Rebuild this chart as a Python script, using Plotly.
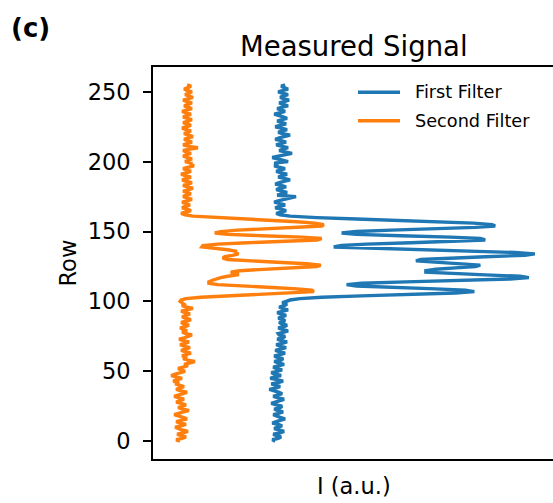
import plotly.graph_objects as go

# Row index of the detector (0..255)
rows = list(range(256))

# First filter intensity, split into the quiet rows below the band,
# the bright band itself, and the quiet rows above it.
first_filter_low = [
    12.3, 12.0, 12.6, 12.9, 12.4, 12.1, 12.8, 13.2, 12.7, 12.2,
    12.5, 13.0, 12.6, 12.0, 12.4, 12.9, 13.3, 12.8, 12.3, 12.1,
    12.7, 13.1, 12.5, 12.2, 12.8, 13.0, 12.4, 11.9, 12.3, 12.9,
    13.2, 12.6, 12.1, 12.5, 13.0, 12.7, 12.0, 11.7, 12.3, 12.8,
    12.4, 11.9, 12.6, 13.1, 12.5, 11.8, 12.2, 12.9, 12.3, 11.9,
    12.5, 13.0, 12.4, 12.1, 12.7, 13.2, 12.6, 12.2, 12.9, 13.1,
    12.5, 12.2, 12.8, 13.3, 12.7, 12.3, 12.9, 13.4, 12.8, 12.4,
    13.0, 13.5, 12.9, 12.5, 13.1, 13.3, 12.7, 12.6, 13.2, 13.6,
    13.0, 12.6, 13.2, 13.5, 12.9, 12.7, 13.3, 13.1, 12.6, 13.0,
    13.4, 12.9, 12.5, 13.1, 13.6, 13.0, 12.7, 13.2, 13.5, 13.0,
]
first_filter_band = [
    13.3, 13.8, 14.8, 17.0, 21.0, 26.0, 30.5, 32.4, 31.5, 28.5,
    24.0, 20.5, 19.5, 21.0, 25.5, 31.0, 36.0, 37.9, 37.0, 33.5,
    29.5, 27.5, 27.5, 28.5, 30.5, 32.5, 33.0, 31.0, 28.0, 26.5,
    27.0, 29.5, 33.5, 37.5, 38.5, 36.5, 32.0, 26.0, 20.5, 18.2,
    19.0, 21.5, 26.0, 31.0, 33.5, 33.0, 30.0, 25.0, 20.5, 19.0,
    20.5, 24.0, 28.5, 32.5, 34.5, 34.2, 32.3, 29.0, 25.0, 20.5,
    16.5, 13.8,
]
first_filter_high = [
    12.8, 12.4, 13.0, 13.4, 12.9, 12.3, 12.7, 13.3, 12.8, 12.2,
    12.6, 13.2, 13.7, 14.4, 12.5, 12.9, 13.5, 13.0, 12.4, 12.8,
    13.4, 12.9, 12.3, 12.7, 13.2, 13.8, 13.2, 12.6, 13.0, 13.5,
    12.9, 12.4, 12.8, 13.3, 12.7, 12.2, 12.6, 12.2, 13.6, 13.0,
    12.5, 12.0, 12.6, 13.2, 14.0, 13.3, 12.7, 13.1, 13.6, 13.0,
    12.4, 12.8, 13.4, 12.9, 12.3, 12.7, 13.3, 13.8, 13.1, 12.6,
    13.0, 13.5, 12.9, 12.3, 12.8, 13.4, 13.0, 12.5, 12.9, 13.5,
    13.1, 12.6, 12.2, 12.8, 13.3, 12.9, 12.5, 13.0, 13.6, 13.1,
    12.7, 13.2, 13.7, 13.2, 12.8, 13.1, 13.6, 13.0, 12.6, 13.1,
    13.6, 13.2, 12.9, 13.3,
]

# Second filter intensity, same split.
second_filter_low = [
    2.7, 2.3, 2.9, 3.3, 2.8, 2.4, 3.0, 3.5, 2.9, 2.5,
    2.2, 2.8, 3.3, 2.7, 2.3, 2.9, 3.4, 3.0, 2.5, 2.1,
    2.6, 3.2, 3.6, 3.0, 2.5, 2.9, 3.3, 2.8, 2.3, 2.7,
    3.1, 2.6, 2.1, 2.5, 3.0, 3.4, 2.8, 2.3, 2.6, 3.1,
    2.7, 2.2, 2.6, 2.0, 2.4, 2.9, 2.3, 1.8, 2.2, 2.7,
    3.2, 2.8, 2.5, 3.0, 3.5, 3.1, 3.6, 4.2, 3.5, 3.0,
    3.4, 2.9, 3.3, 3.8, 3.2, 2.8, 3.3, 3.7, 3.1, 2.7,
    3.2, 3.6, 3.0, 2.6, 3.1, 3.5, 3.9, 3.3, 2.9, 3.4,
    3.0, 2.7, 3.2, 3.6, 3.1, 2.8, 3.4, 3.8, 3.2, 2.9,
    3.3, 3.7, 3.2, 2.8, 3.4, 4.0, 3.3, 2.9, 3.1, 2.8,
]
second_filter_band = [
    2.7, 2.8, 3.3, 4.8, 7.5, 11.0, 14.5, 16.2, 16.0, 14.5,
    12.0, 9.0, 6.5, 5.6, 5.6, 5.9, 6.3, 6.8, 7.5, 8.5,
    8.5, 7.8, 8.7, 11.0, 14.0, 16.5, 16.9, 15.5, 12.5, 9.5,
    7.5, 7.0, 7.2, 8.0, 8.6, 8.3, 8.3, 7.5, 6.0, 4.9,
    5.0, 6.5, 9.5, 13.5, 16.5, 17.0, 15.0, 11.0, 7.5, 6.2,
    6.8, 8.5, 11.5, 15.0, 17.0, 17.2, 16.3, 14.5, 12.0, 9.0,
    6.0, 4.0,
]
second_filter_high = [
    3.2, 2.8, 3.3, 3.8, 3.4, 2.9, 3.2, 3.7, 3.3, 2.9,
    3.4, 3.9, 3.5, 3.0, 3.3, 3.8, 3.4, 3.0, 3.6, 4.0,
    3.4, 3.0, 3.5, 3.9, 3.3, 2.9, 3.4, 3.8, 3.2, 2.8,
    3.3, 3.8, 3.4, 3.0, 3.5, 4.1, 3.8, 3.8, 3.2, 3.5,
    3.9, 3.4, 3.0, 3.4, 3.8, 3.3, 3.0, 3.7, 4.5, 3.6,
    3.0, 3.4, 3.9, 3.5, 3.1, 3.5, 4.0, 3.6, 3.1, 3.4,
    3.8, 3.3, 2.9, 3.3, 3.8, 3.4, 3.0, 3.5, 3.9, 3.4,
    3.0, 3.4, 3.8, 3.3, 2.9, 3.4, 3.9, 3.5, 3.1, 3.5,
    3.9, 3.4, 3.0, 3.5, 4.0, 3.6, 3.2, 3.6, 3.9, 3.4,
    3.1, 3.5, 3.8, 3.4,
]

series_names = ["First Filter", "Second Filter"]
series_colors = ["#1f77b4", "#ff7f0e"]
row_ticks = [0, 50, 100, 150, 200, 250]

first_filter = first_filter_low + first_filter_band + first_filter_high
second_filter = second_filter_low + second_filter_band + second_filter_high

FONT = "DejaVu Sans"
LINE_W = 3.4
SPINE_W = 1.8

fig = go.Figure()
for name, values, color in zip(series_names, [first_filter, second_filter], series_colors):
    fig.add_trace(go.Scatter(
        x=values, y=rows, mode="lines", name=name, showlegend=False,
        line=dict(color=color, width=LINE_W),
    ))

# Autoscale with 5% padding on both axes
all_x = first_filter + second_filter
xmin, xmax = min(all_x), max(all_x)
xpad = 0.05 * (xmax - xmin)
ypad = 0.05 * (rows[-1] - rows[0])

fig.update_layout(
    width=553, height=503,
    margin=dict(l=153, r=0, t=67, b=44, pad=0),
    paper_bgcolor="white", plot_bgcolor="white",
    font=dict(family=FONT, color="black"),
    xaxis=dict(
        range=[xmin - xpad, xmax + xpad],
        showgrid=False, zeroline=False, showticklabels=False, ticks="",
        showline=True, mirror=True, linecolor="black", linewidth=SPINE_W,
    ),
    yaxis=dict(
        range=[rows[0] - ypad, rows[-1] + ypad],
        tickvals=row_ticks, ticktext=[str(t) for t in row_ticks],
        ticks="outside", ticklen=8, tickwidth=SPINE_W, tickcolor="black",
        tickfont=dict(family=FONT, size=22.5, color="black"),
        ticklabelstandoff=8,
        showgrid=False, zeroline=False,
        showline=True, mirror=False, linecolor="black", linewidth=SPINE_W,
    ),
)

PLOT_L, PLOT_W = 153, 400
PLOT_B, PLOT_H = 459, 392


def px_x(px):
    return (px - PLOT_L) / PLOT_W


def px_y(py):
    return (PLOT_B - py) / PLOT_H


annotations = [
    dict(text="Measured Signal", x=px_x(354), y=px_y(46), font=dict(size=27.5)),
    dict(text="Row", x=px_x(67.5), y=0.5, textangle=-90, font=dict(size=22.5)),
    dict(text="I (a.u.)", x=px_x(354), y=px_y(486), font=dict(size=22.5)),
    dict(text="<b>(c)</b>", x=px_x(30), y=px_y(28), font=dict(size=26)),
]
for a in annotations:
    a.update(xref="paper", yref="paper", showarrow=False,
             xanchor="center", yanchor="middle")
    a["font"].update(family=FONT, color="black")
    fig.add_annotation(**a)

# Frameless legend in the upper right corner of the axes
legend_rows_py = [92.3, 120.7]
for name, color, py in zip(series_names, series_colors, legend_rows_py):
    fig.add_shape(type="line", xref="paper", yref="paper",
                  x0=px_x(358), x1=px_x(400), y0=px_y(py), y1=px_y(py),
                  line=dict(color=color, width=LINE_W))
    fig.add_annotation(text=name, xref="paper", yref="paper",
                       x=px_x(413), y=px_y(py), xanchor="left", yanchor="middle",
                       showarrow=False,
                       font=dict(family=FONT, size=17.7, color="black"))

fig.write_html("out.html")
